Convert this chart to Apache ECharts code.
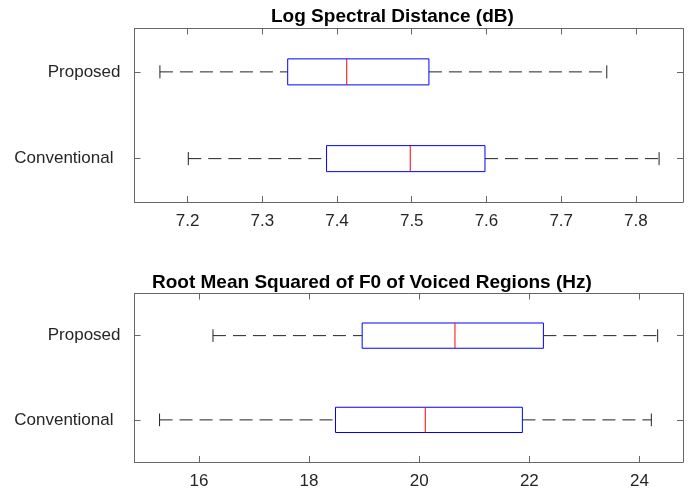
<html>
<head>
<meta charset="utf-8">
<title>Log Spectral Distance / RMS F0</title>
<script src="https://cdn.jsdelivr.net/npm/echarts@6/dist/echarts.min.js"></script>
</head>
<body style="margin:0;width:700px;height:490px;background:#fff">
<div id="main" style="width:700px;height:490px;"></div>
<script>
// categories (bottom to top)
var categories = ['Conventional', 'Proposed'];

// box values: [low whisker, q1, median, q3, high whisker]
var lsdConventional = [7.201, 7.386, 7.498, 7.598, 7.831];
var lsdProposed     = [7.163, 7.334, 7.413, 7.523, 7.761];
var f0Conventional  = [15.285, 18.48, 20.11, 21.873, 24.215];
var f0Proposed      = [16.255, 18.964, 20.649, 22.255, 24.33];

// axis ticks and ranges
var lsdTicks = [7.2, 7.3, 7.4, 7.5, 7.6, 7.7, 7.8];
var f0Ticks  = [16, 18, 20, 22, 24];
var lsdRange = [7.129, 7.863];
var f0Range  = [14.83, 24.79];

var titles = ['Log Spectral Distance (dB)', 'Root Mean Squared of F0 of Voiced Regions (Hz)'];

var font = 'Liberation Sans, Arial, Helvetica, sans-serif';
var axisColor = '#666';
var textColor = '#262626';

function rows(conv, prop) {
  return [[0].concat(conv), [1].concat(prop)];
}

// draws box, median, dashed whiskers and end caps through the axes
function renderBox(params, api) {
  var cat = api.value(0);
  var p = [];
  for (var i = 1; i <= 5; i++) {
    p.push(api.coord([api.value(i), cat]));
  }
  var band = api.size([0, 1])[1];
  var h = band * 0.3;
  var cap = band * 0.15;
  var y = p[0][1];
  var dash = {stroke: '#222', lineWidth: 1, lineDash: [13, 7]};
  var solid = {stroke: '#222', lineWidth: 1};
  return {
    type: 'group',
    children: [
      {type: 'line', shape: {x1: p[0][0], y1: y, x2: p[1][0], y2: y}, style: dash},
      {type: 'line', shape: {x1: p[3][0], y1: y, x2: p[4][0], y2: y}, style: dash},
      {type: 'line', shape: {x1: p[0][0], y1: y - cap / 2, x2: p[0][0], y2: y + cap / 2}, style: solid},
      {type: 'line', shape: {x1: p[4][0], y1: y - cap / 2, x2: p[4][0], y2: y + cap / 2}, style: solid},
      {type: 'rect', shape: {x: p[1][0], y: y - h / 2, width: p[3][0] - p[1][0], height: h},
        style: {fill: '#fff', stroke: '#0000ff', lineWidth: 1}},
      {type: 'line', shape: {x1: p[2][0], y1: y - h / 2, x2: p[2][0], y2: y + h / 2},
        style: {stroke: '#ff0000', lineWidth: 1}}
    ]
  };
}

var lineStyle = {show: true, lineStyle: {color: axisColor, width: 1}};
var tickStyle = {color: axisColor, width: 1};

function xAxes(range, ticks, gi) {
  return [{
    type: 'value', gridIndex: gi, min: range[0], max: range[1],
    axisLine: lineStyle,
    splitLine: {show: false},
    axisTick: {show: true, inside: true, length: 6, customValues: ticks, lineStyle: tickStyle},
    axisLabel: {customValues: ticks, margin: 11, fontSize: 17, color: textColor, fontFamily: font}
  }, {
    type: 'value', gridIndex: gi, position: 'top', min: range[0], max: range[1],
    axisLine: lineStyle,
    splitLine: {show: false},
    axisTick: {show: true, inside: true, length: 6, customValues: ticks, lineStyle: tickStyle},
    axisLabel: {show: false}
  }];
}

function yAxes(gi) {
  return [{
    type: 'category', gridIndex: gi, data: categories,
    axisLine: lineStyle,
    axisTick: {show: true, inside: true, length: 6, alignWithLabel: true, lineStyle: tickStyle},
    axisLabel: {
      margin: 14, fontSize: 17, color: textColor, fontFamily: font,
      formatter: function (v) { return v == 'Conventional' ? '{c|' + v + '}' : v; },
      rich: {c: {fontSize: 17, color: textColor, fontFamily: font, padding: [0, 7, 0, 0]}}
    }
  }, {
    type: 'category', gridIndex: gi, position: 'right', data: categories,
    axisLine: lineStyle,
    axisTick: {show: true, inside: true, length: 6, alignWithLabel: true, lineStyle: tickStyle},
    axisLabel: {show: false}
  }];
}

var myChart = echarts.init(document.getElementById('main'));

var option = {
  backgroundColor: '#fff',
  animation: false,
  title: [
    {text: titles[0], left: 266, top: 2,
      textStyle: {fontSize: 19, fontWeight: 'bold', color: '#000', fontFamily: font}},
    {text: titles[1], left: 147, top: 268,
      textStyle: {fontSize: 19, fontWeight: 'bold', color: '#000', fontFamily: font}}
  ],
  grid: [
    {left: 134.5, right: 17, top: 28.5, height: 173.5},
    {left: 134.5, right: 17, top: 293.5, height: 170}
  ],
  xAxis: xAxes(lsdRange, lsdTicks, 0).concat(xAxes(f0Range, f0Ticks, 1)),
  yAxis: yAxes(0).concat(yAxes(1)),
  series: [{
    type: 'custom', xAxisIndex: 0, yAxisIndex: 0,
    renderItem: renderBox,
    encode: {x: [1, 2, 3, 4, 5], y: 0},
    data: rows(lsdConventional, lsdProposed)
  }, {
    type: 'custom', xAxisIndex: 2, yAxisIndex: 2,
    renderItem: renderBox,
    encode: {x: [1, 2, 3, 4, 5], y: 0},
    data: rows(f0Conventional, f0Proposed)
  }]
};

myChart.setOption(option);
</script>
</body>
</html>
